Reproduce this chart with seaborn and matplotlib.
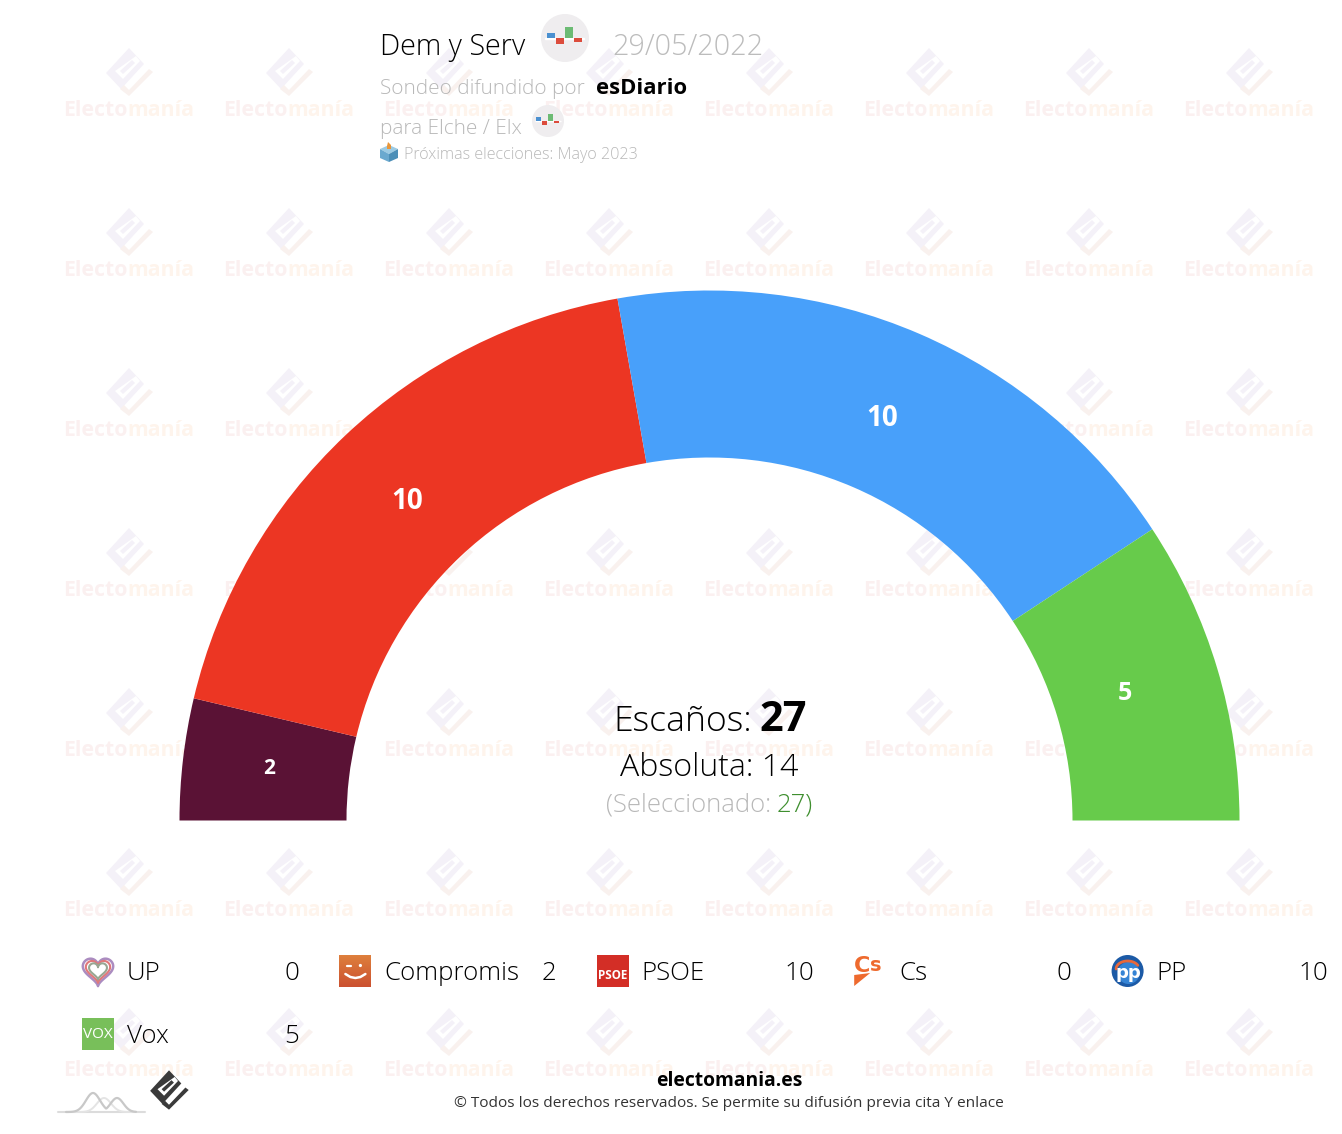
import numpy as np
import matplotlib
matplotlib.use('Agg')
import matplotlib.pyplot as plt
import seaborn as sns
from matplotlib.colors import LinearSegmentedColormap
from matplotlib.patches import Circle, Polygon, Rectangle

sns.set_theme(style='white')
plt.rcParams['font.family'] = ['Open Sans', 'DejaVu Sans']

# =============================
# Data
# =============================
arc_parties = ['Compromis', 'PSOE', 'PP', 'Vox']
arc_seats = [2, 10, 10, 5]
arc_colors = ['#5a1235', '#ec3623', '#48a0fa', '#67cb4b']
arc_label_sizes = [15, 20, 20, 18]

legend_parties = ['UP', 'Compromis', 'PSOE', 'Cs', 'PP', 'Vox']
legend_seats = [0, 2, 10, 0, 10, 5]

total_seats = 27
majority = 14
selected = 27

W, H = 1342, 1134
CX, CY = 709.5, 820.5
R_OUT, R_IN = 530, 363

# full figure axes in pixel coordinates, y runs downwards
fig = plt.figure(figsize=(W / 100, H / 100), dpi=100, facecolor='white')
ax = fig.add_axes([0, 0, 1, 1])
ax.set_xlim(0, W)
ax.set_ylim(H, 0)
ax.axis('off')


def px(size):
    return size * 0.72


def txt(x, y, s, size, color='black', weight='light', ha='left', z=5):
    return ax.text(x, y, s, fontsize=px(size), color=color, fontweight=weight,
                   ha=ha, va='baseline', zorder=z)


# =============================
# Watermark
# =============================
def mark(cx, cy, k, body, check, hole='white', z=1):
    pts = lambda p: [(cx + k * a, cy + k * b) for a, b in p]
    ax.add_patch(Polygon(pts([(0, -24), (15, -8), (-8, 17), (-23, 1)]), fc=body, ec='none', zorder=z))
    ax.add_patch(Polygon(pts([(7, -16), (11, -11), (-6, 7), (-14, -1)]), fc=hole, ec='none', zorder=z))
    ax.add_patch(Polygon(pts([(3, -12), (6, -9), (-6, 2), (-9, -1)]), fc=body, ec='none', zorder=z))
    ax.add_patch(Polygon(pts([(-9, 17), (-5, 13), (0, 18), (20, -3), (24, 0), (0, 24)]), fc=check, ec='none', zorder=z))


for col in range(8):
    for row in range(7):
        wx = 129 + 160 * col
        wy = 72 + 160 * row
        mark(wx, wy, 1, '#f4f1f8', '#f9f1ee')
        txt(wx - 1.5, wy + 44, 'Electo', 21.3, '#fbf0f0', 'bold', 'right', 1)
        txt(wx - 1.5, wy + 44, 'manía', 21.3, '#fef4ec', 'bold', 'left', 1)

# =============================
# Hemicycle
# =============================
palette = sns.color_palette(arc_colors)
# y axis is inverted, so counterclock from 180 sweeps over the top
wedges, _ = ax.pie([s / (2 * total_seats) for s in arc_seats], colors=palette,
                   startangle=180, counterclock=True, normalize=False,
                   center=(CX, CY), radius=R_OUT, frame=True,
                   wedgeprops=dict(width=R_OUT - R_IN, linewidth=0, zorder=3))

r_label = (R_OUT + R_IN) / 2 - 5
label_nudge = [(-2, -1), (1, 2), (-2, 3), (-8, 0)]
for w, seats, size, (nx, ny) in zip(wedges, arc_seats, arc_label_sizes, label_nudge):
    mid = np.deg2rad((w.theta1 + w.theta2) / 2)
    ax.text(CX + r_label * np.cos(mid) + nx, CY + r_label * np.sin(mid) + ny, str(seats),
            color='white', fontsize=size, fontweight='bold', ha='center', va='center', zorder=5)

# =============================
# Centre text
# =============================
txt(752, 731, 'Escaños:', 35.5, ha='right')
txt(759, 731, str(total_seats), 41.5, weight='bold')
txt(709.5, 776.5, f'Absoluta: {majority}', 32.2, ha='center')
txt(606, 811.5, '(Seleccionado:', 25.6, '#b8b8b8')
txt(777, 811.5, f'{selected})', 25.6, '#3f8f2f')

# =============================
# Header
# =============================
def poll_icon(cx, cy, r):
    k = r / 24
    ax.add_patch(Circle((cx, cy), r, fc='#efedef', ec='none', zorder=4))
    ax.add_patch(Rectangle((cx - 20 * k, cy - 0.5 * k), 39 * k, 1.2 * k, fc='#b5b5b5', zorder=5))
    for x0, h, c in [(-18, -5.5, '#4a90d0'), (-9, 5.5, '#dc4c3c'), (0, -11, '#6cbb74'), (9, 3.5, '#dc4c3c')]:
        ax.add_patch(Rectangle((cx + x0 * k, cy), 7.5 * k, h * k, fc=c, ec='none', zorder=6))


txt(380, 55, 'Dem y Serv', 28.8, 'black')
poll_icon(565, 38, 24)
txt(612, 55, '29/05/2022', 28.8, '#bcbcbc')
txt(380, 94, 'Sondeo difundido por', 20.8, '#b8b8b8')
txt(596, 94.5, 'esDiario', 22, 'black', 'bold')
txt(380, 134, 'para Elche / Elx', 20.8, '#b8b8b8')
poll_icon(548, 121, 16)
txt(404, 159, 'Próximas elecciones: Mayo 2023', 16.1, '#b8b8b8')

# ballot box
ax.add_patch(Polygon([(380, 149), (389, 145), (398, 149), (389, 154)], fc='#9ccbe4', ec='none', zorder=5))
ax.add_patch(Polygon([(380, 149), (389, 154), (389, 162), (380, 158)], fc='#6aa9cf', ec='none', zorder=5))
ax.add_patch(Polygon([(389, 154), (398, 149), (398, 158), (389, 162)], fc='#4c8fb8', ec='none', zorder=5))
ax.add_patch(Polygon([(387, 146), (388, 142), (391, 145), (391, 149), (387, 149)], fc='#e9963a', ec='none', zorder=6))

# =============================
# Legend
# =============================
def logo_up(x, y):
    t = np.linspace(0, 2 * np.pi, 80)
    hx = 16 * np.sin(t) ** 3
    hy = -(13 * np.cos(t) - 5 * np.cos(2 * t) - 2 * np.cos(3 * t) - np.cos(4 * t))
    for k, c, lw in [(0.95, '#ab8cc0', 1.8), (0.76, '#e0787a', 1.5), (0.56, '#98a692', 1.5)]:
        ax.plot(x + 16 + k * hx, y + 15 + k * hy, color=c, lw=lw, zorder=5)


def logo_compromis(x, y):
    cmap = LinearSegmentedColormap.from_list('comp', ['#de7f3c', '#cb5130'])
    ax.imshow(np.linspace(0, 1, 32)[:, None], extent=(x, x + 32, y + 32, y), cmap=cmap, aspect='auto', zorder=5)
    ax.plot(x + np.array([6, 11, 16, 21, 26]), y + np.array([19, 22, 23, 22, 19]), color='white', lw=1.8, zorder=6)
    ax.plot([x + 8, x + 12], [y + 11, y + 11], color='white', lw=1.6, zorder=6)
    ax.add_patch(Circle((x + 21, y + 10.5), 1.6, fc='white', ec='none', zorder=6))


def logo_psoe(x, y):
    ax.add_patch(Rectangle((x, y), 32, 32, fc='#d32e26', ec='none', zorder=5))
    ax.text(x + 16, y + 20.5, 'PSOE', color='white', fontsize=8.4, fontweight='bold',
            ha='center', va='center', zorder=6)


def logo_cs(x, y):
    ax.text(x, y + 17, 'C', color='#ee6a2e', fontsize=16, fontweight='bold',
            ha='left', va='baseline', zorder=6, family=['DejaVu Sans'])
    ax.text(x + 16, y + 16, 's', color='#ee6a2e', fontsize=14, fontweight='bold',
            ha='left', va='baseline', zorder=6, family=['DejaVu Sans'])
    ax.add_patch(Polygon([(x, y + 20), (x + 16, y + 18), (x, y + 31)], fc='#ee6a2e', ec='none', zorder=6))


def logo_pp(x, y):
    ax.add_patch(Circle((x + 16, y + 16), 16, fc='#1c5aa6', ec='none', zorder=5))
    ax.add_patch(Circle((x + 17, y + 18), 11, fc='#3483d4', ec='none', zorder=6))
    t = np.linspace(np.pi, 1.85 * np.pi, 30)
    ax.plot(x + 16 + 11.5 * np.cos(t), y + 14 + 8 * np.sin(t), color='#e8683a', lw=2, zorder=7)
    ax.text(x + 17, y + 18, 'pp', color='white', fontsize=13, fontweight='bold',
            ha='center', va='center', zorder=8, family=['DejaVu Sans'])


def logo_vox(x, y):
    ax.add_patch(Rectangle((x, y), 32, 32, fc='#78bf5a', ec='none', zorder=5))
    ax.text(x + 16, y + 16, 'VOX', color='white', fontsize=11, ha='center', va='center', zorder=6)


logos = [logo_up, logo_compromis, logo_psoe, logo_cs, logo_pp, logo_vox]

for i, (name, seats, logo) in enumerate(zip(legend_parties, legend_seats, logos)):
    col, row = i % 5, i // 5
    x = 82 + 257.4 * col
    base = 980 + 63 * row
    logo(x, base - 25)
    txt(x + 45, base, name, 25.9)
    txt(x + 217, base, str(seats), 25.9, ha='right')

# =============================
# Footer
# =============================
txt(729.5, 1086, 'electomania.es', 19.3, 'black', 'bold', 'center')
txt(729, 1107, '© Todos los derechos reservados. Se permite su difusión previa cita Y enlace', 15.45, '#333333', 'normal', 'center')

hill_x = np.linspace(66, 136, 120)
hill_dark = np.maximum(19 * np.exp(-((hill_x - 93) / 10) ** 2), 14 * np.exp(-((hill_x - 117) / 9) ** 2))
hill_light = 14 * np.exp(-((hill_x - 104) / 10) ** 2)
ax.plot([58, 145], [1112, 1112], color='#dcdcdc', lw=1.5, zorder=5)
ax.plot(hill_x, 1112 - hill_light, color='#e4e4e4', lw=1.4, zorder=5)
ax.plot(hill_x, 1112 - hill_dark, color='#c8c8c8', lw=1.6, zorder=5)
mark(169, 1090, 0.82, '#3a3a3a', '#3a3a3a', z=6)

ax.set_xlim(0, W)
ax.set_ylim(H, 0)
ax.set_aspect('auto')
ax.axis('off')
plt.savefig('out.png', dpi=100, facecolor='white')
